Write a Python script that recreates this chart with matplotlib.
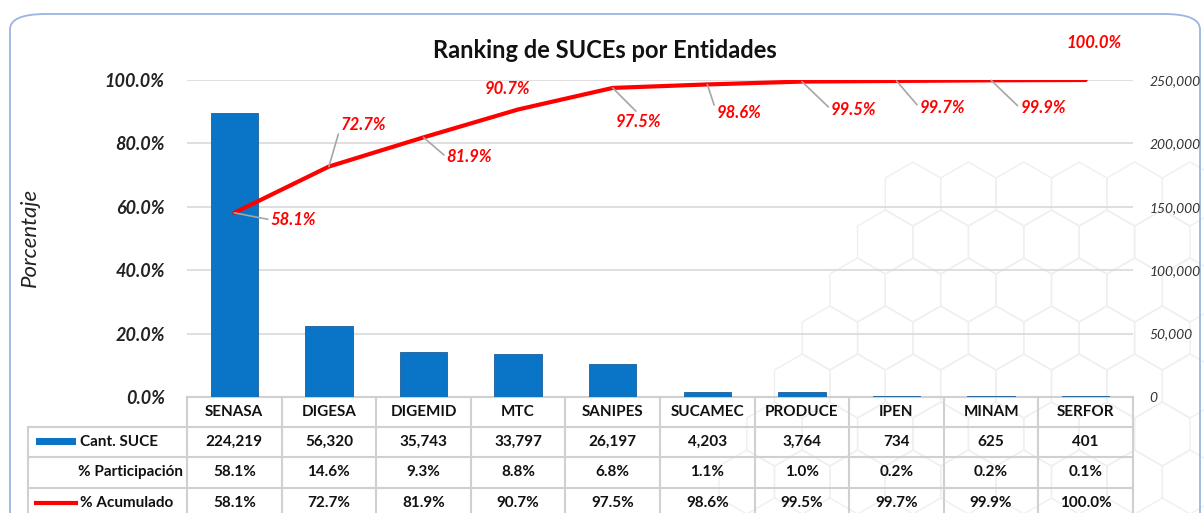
import numpy as np
import matplotlib.pyplot as plt
from matplotlib.patches import FancyBboxPatch, RegularPolygon, Rectangle
from matplotlib.lines import Line2D
from matplotlib.transforms import blended_transform_factory

plt.rcParams['font.family'] = ['Lato', 'DejaVu Sans']

# datos
entidades = ['SENASA', 'DIGESA', 'DIGEMID', 'MTC', 'SANIPES', 'SUCAMEC',
             'PRODUCE', 'IPEN', 'MINAM', 'SERFOR']
cant_suce = [224219, 56320, 35743, 33797, 26197, 4203, 3764, 734, 625, 401]
participacion = [58.1, 14.6, 9.3, 8.8, 6.8, 1.1, 1.0, 0.2, 0.2, 0.1]
acumulado = [58.1, 72.7, 81.9, 90.7, 97.5, 98.6, 99.5, 99.7, 99.9, 100.0]

# desplazamiento de las etiquetas (pixeles)
lbl_off = [(59, -7), (35, 42), (46, -20), (-11, 20), (26, -34),
           (32, -29), (52, -28), (46, -27), (52, -28), (8, 37)]

W, H = 1204, 513
fig = plt.figure(figsize=(W / 100, H / 100), dpi=100)
fig.patch.set_facecolor('white')

# marco redondeado
frame = FancyBboxPatch((10 / W, -0.2), 1190 / W, 1.2 - 14 / H,
                       boxstyle='round,pad=0,rounding_size=0.03',
                       transform=fig.transFigure, facecolor='none',
                       edgecolor='#9db4e0', linewidth=1.3, zorder=-2)
fig.patches.append(frame)

# panal de fondo (en pulgadas para que no se deforme)
r = 0.32
for j in range(0, 7):
    for i in range(0, 11):
        cx = 1190 - i * 55.4 - (27.7 if j % 2 else 0)
        cy = 290 + j * 48 - 48 * 2
        if cx < 700 + (6 - j) * 30 or cy < 180:
            continue
        hexa = RegularPolygon((cx / 100, (H - cy) / 100), 6, radius=r,
                              orientation=0, transform=fig.dpi_scale_trans,
                              facecolor='none', edgecolor='#efefef', lw=1.0, zorder=-5)
        fig.patches.append(hexa)

ax = fig.add_axes([187 / W, (H - 397) / H, 946 / W, 317 / H])
ax.patch.set_alpha(0)
ax2 = ax.twinx()

x = np.arange(len(entidades))

ax2.bar(x, cant_suce, width=0.5, color='#0a74c6', edgecolor='#1c5d99', lw=0.6, zorder=2)
ax2.set_ylim(0, 250000)
ax2.set_yticks(np.arange(0, 250001, 50000))
ax2.set_yticklabels([f'{v:,}' for v in range(0, 250001, 50000)],
                    fontsize=10, style='italic', color='#333333')

ac = np.array(acumulado) / 100
ax.set_ylim(0, 1)
ax.set_xlim(-0.5, len(entidades) - 0.5)
ax.set_yticks(np.arange(0, 1.01, 0.2))
ax.set_yticklabels([f'{v * 100:.1f}%' for v in np.arange(0, 1.01, 0.2)],
                   fontsize=13, style='italic', fontweight='bold', color='#222222')
ax.set_xticks([])
ax.grid(axis='y', color='#d9d9d9', lw=1.2)
ax.set_axisbelow(True)

for a in (ax, ax2):
    for s in a.spines.values():
        s.set_visible(False)
    a.tick_params(length=0)
ax.tick_params(axis='y', pad=16)
ax2.tick_params(axis='y', pad=12)

# linea acumulada en un eje superpuesto para quedar encima de las barras
ax3 = fig.add_axes(ax.get_position())
ax3.set_xlim(ax.get_xlim())
ax3.set_ylim(0, 1)
ax3.axis('off')
ax3.plot(x, ac, color='#ff0000', lw=3, solid_capstyle='round', zorder=3)
for xi, yi, v, off in zip(x, ac, acumulado, lbl_off):
    rel = (0, 0.5) if off[0] > 30 else (0.5, 0)
    if off[1] < 0 and off[0] < 30:
        rel = (0.5, 1)
    ax3.annotate(f'{v:.1f}%', (xi, yi), xytext=off, textcoords='offset pixels',
                 ha='center', va='center', color='#ff0000', fontsize=12,
                 style='italic', fontweight='bold',
                 arrowprops=dict(arrowstyle='-', color='#a6a6a6', lw=1.2,
                                 shrinkA=0, shrinkB=0, relpos=rel)
                 if abs(off[0]) > 15 else None)

fig.text(30 / W, 1 - 237 / H, 'Porcentaje', rotation=90, ha='center', va='center',
         fontsize=16, style='italic', color='#222222')
fig.text(605 / W, 1 - 50 / H, 'Ranking de SUCEs por Entidades', ha='center',
         va='center', fontsize=17, fontweight='bold', color='#111111')

# tabla de datos
tr = blended_transform_factory(ax.transData, fig.transFigure)
left = -0.5 - 159 / 94.6
rows = [397, 427, 457, 488, 520]
gc = '#d0d0d0'


def fy(p):
    return 1 - p / H


for rr in rows:
    x0 = -0.5 if rr == 397 else left
    ax.add_line(Line2D([x0, 9.5], [fy(rr), fy(rr)], transform=tr, color=gc,
                       lw=1.5, clip_on=False))
for k in range(len(entidades) + 1):
    ax.add_line(Line2D([k - 0.5, k - 0.5], [fy(397), fy(520)], transform=tr,
                       color=gc, lw=1.5, clip_on=False))
ax.add_line(Line2D([left, left], [fy(427), fy(520)], transform=tr, color=gc,
                   lw=1.5, clip_on=False))

row_c = [412, 442, 472, 503]
for k, name in enumerate(entidades):
    ax.text(k, fy(row_c[0]), name, transform=tr, ha='center', va='center',
            fontsize=11, fontweight='bold', color='#111111')
    ax.text(k, fy(row_c[1]), f'{cant_suce[k]:,}', transform=tr, ha='center',
            va='center', fontsize=11, fontweight='bold', color='#111111')
    ax.text(k, fy(row_c[2]), f'{participacion[k]:.1f}%', transform=tr, ha='center',
            va='center', fontsize=11, fontweight='bold', color='#111111')
    ax.text(k, fy(row_c[3]), f'{acumulado[k]:.1f}%', transform=tr, ha='center',
            va='center', fontsize=11, fontweight='bold', color='#111111')

# leyenda dentro de la tabla
kx0 = left + 8 / 94.6
kx1 = left + 48 / 94.6
ax.add_patch(Rectangle((kx0, fy(445)), kx1 - kx0, 7 / H, transform=tr,
                       facecolor='#0a74c6', edgecolor='none', clip_on=False))
ax.add_line(Line2D([kx0, kx1], [fy(503), fy(503)], transform=tr, color='#ff0000',
                   lw=3, clip_on=False))
ax.text(left + 52 / 94.6, fy(row_c[1]), 'Cant. SUCE', transform=tr, ha='left',
        va='center', fontsize=11, fontweight='bold', color='#111111')
ax.text(-0.5 - 4 / 94.6, fy(row_c[2]), '% Participación', transform=tr, ha='right',
        va='center', fontsize=11, fontweight='bold', color='#111111')
ax.text(left + 52 / 94.6, fy(row_c[3]), '% Acumulado', transform=tr, ha='left',
        va='center', fontsize=11, fontweight='bold', color='#111111')

fig.savefig('out.png', dpi=100)
